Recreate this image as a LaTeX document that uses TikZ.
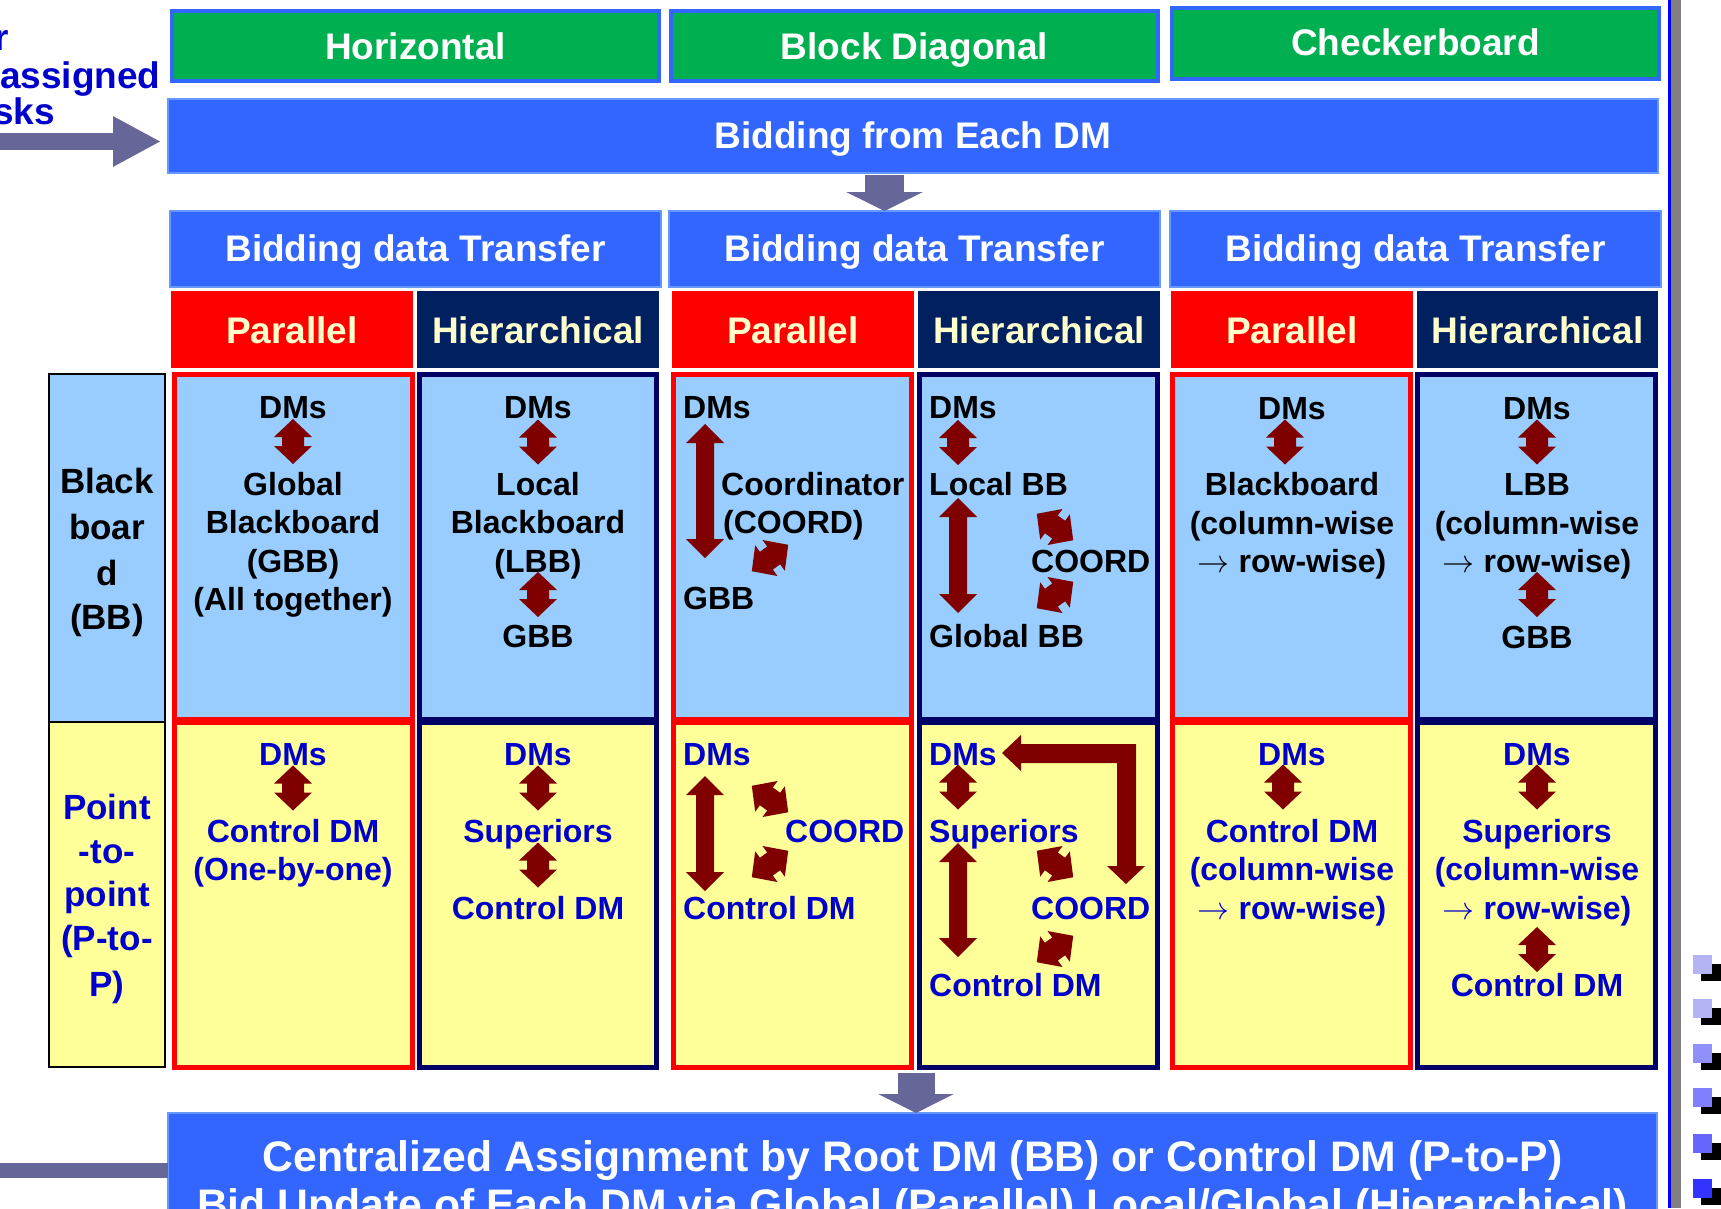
\RequirePackage{fix-cm}
\documentclass[tikz,border=0pt]{standalone}
\usepackage{fontspec}
\setmainfont{Liberation Sans}
\usetikzlibrary{fit,arrows.meta}
\definecolor{gfill}{HTML}{00B050}
\definecolor{bfill}{HTML}{3366FF}
\definecolor{bedge}{HTML}{6699FF}
\definecolor{navyh}{HTML}{002060}
\definecolor{navyc}{HTML}{000066}
\definecolor{cream}{HTML}{FFFFCC}
\definecolor{lbfill}{HTML}{99CCFF}
\definecolor{yfill}{HTML}{FFFF99}
\definecolor{dred}{HTML}{800000}
\definecolor{tblue}{HTML}{0000CC}
\definecolor{garr}{HTML}{666699}
\definecolor{sqa}{HTML}{B4B4F5}
\definecolor{sqb}{HTML}{9090FA}
\definecolor{sqc}{HTML}{8080FF}
\definecolor{sqd}{HTML}{6666FF}
\definecolor{sqe}{HTML}{3333FF}
\newcommand\fH{\fontsize{37}{44}\selectfont\bfseries}
\newcommand\fC{\fontsize{32}{38}\selectfont\bfseries}
\newcommand\fS{\fontsize{35}{42}\selectfont\bfseries}
\newcommand\fB{\fontsize{42.7}{50}\selectfont\bfseries}
% double block arrow: cx, cy, rotation, half length, head half width, shaft half width, head length
\newcommand\darr[7]{%
  \begin{scope}[shift={(#1,#2)},rotate=#3]
    \fill[dred] (0,-#4) -- (#5,-#4+#7) -- (#6,-#4+#7) -- (#6,#4-#7) -- (#5,#4-#7)
      -- (0,#4) -- (-#5,#4-#7) -- (-#6,#4-#7) -- (-#6,-#4+#7) -- (-#5,-#4+#7) -- cycle;
  \end{scope}}
\newcommand\sarr[3]{\darr{#1}{#2}{#3}{22.5}{19}{11}{18}}
\tikzset{
  gbox/.style={draw=bfill, line width=4pt, fill=gfill, inner sep=0pt, outer sep=0pt},
  bbox/.style={draw=bedge, line width=1.5pt, fill=bfill, inner sep=0pt, outer sep=0pt},
  phead/.style={fill=red, inner sep=0pt, outer sep=0pt},
  hhead/.style={fill=navyh, inner sep=0pt, outer sep=0pt},
  pcell/.style={draw=red, line width=5pt, inner sep=0pt, outer sep=0pt},
  hcell/.style={draw=navyc, line width=5pt, inner sep=0pt, outer sep=0pt},
  sbox/.style={draw=black, line width=2pt, inner sep=0pt, outer sep=0pt},
  hd/.style={font=\fH, text=white, inner sep=0pt, anchor=base},
  hc/.style={font=\fH, text=cream, inner sep=0pt, anchor=base},
  lt/.style={font=\fH, text=tblue, inner sep=0pt},
  ck/.style={font=\fC, text=black, inner sep=0pt, anchor=base},
  cb/.style={font=\fC, text=tblue, inner sep=0pt, anchor=base},
  ckl/.style={ck, anchor=base west},
  cbl/.style={cb, anchor=base west},
  sk/.style={font=\fS, text=black, inner sep=0pt, anchor=base},
  sb/.style={font=\fS, text=tblue, inner sep=0pt, anchor=base},
  garrow/.style={draw=garr, line cap=butt},
}
\begin{document}
\begin{tikzpicture}[x=1pt,y=-1pt]
\useasboundingbox (0,0) rectangle (1721,1208);
\clip (0,0) rectangle (1721,1208);
\fill[white] (0,0) rectangle (1721,1208);

% right frame and decorations
\fill[blue] (1668,0) rectangle (1671,1208);
\fill[gray] (1671,0) rectangle (1681,1208);
\foreach \yy/\cc in {955/sqa, 999/sqa, 1044/sqb, 1088/sqc, 1134/sqd, 1179/sqe}{
  \fill[black] (1701,\yy+9) rectangle (1721,\yy+26);
  \fill[\cc] (1693,\yy) rectangle (1712,\yy+19);
}

% top-left cropped text
\node[lt, anchor=base east] (tl1) at (9,50) {r};
\node[lt, anchor=base west] (tl2) at (0,88) {assigned};
\node[lt, anchor=base east] (tl3) at (55,124) {sks};

% green headers
\node[gbox, fit={(172,11) (659,81)}] (gH) {};
\node[gbox, fit={(671,11) (1158,81)}] (gB) {};
\node[gbox, fit={(1172,8) (1659,79)}] (gC) {};
\node[hd] (tH) at (415.5,59) {Horizontal};
\node[hd] (tB) at (914.5,59) {Block Diagonal};
\node[hd] (tC) at (1415.5,55) {Checkerboard};

% bidding
\node[bbox, fit={(168,99) (1658,173)}] (bid) {};
\node[hd] (tbid) at (913,148) {Bidding from Each DM};

\node[bbox, fit={(170,211) (661,287)}] (bdt1) {};
\node[bbox, fit={(669,211) (1160,287)}] (bdt2) {};
\node[bbox, fit={(1170,211) (1661,287)}] (bdt3) {};
\node[hd] (tbdt1) at (415.5,261) {Bidding data Transfer};
\node[hd] (tbdt2) at (914.5,261) {Bidding data Transfer};
\node[hd] (tbdt3) at (1415.5,261) {Bidding data Transfer};

% parallel / hierarchical headers
\node[phead, fit={(171,291) (413,368)}] (ph1) {};
\node[hhead, fit={(417,291) (659,368)}] (hh1) {};
\node[phead, fit={(672,291) (914,368)}] (ph2) {};
\node[hhead, fit={(918,291) (1160,368)}] (hh2) {};
\node[phead, fit={(1171,291) (1413,368)}] (ph3) {};
\node[hhead, fit={(1417,291) (1658,368)}] (hh3) {};
\node[hc] (tph1) at (292,343) {Parallel};
\node[hc] (thh1) at (538,343) {Hierarchical};
\node[hc] (tph2) at (793,343) {Parallel};
\node[hc] (thh2) at (1039,343) {Hierarchical};
\node[hc] (tph3) at (1292,343) {Parallel};
\node[hc] (thh3) at (1537.5,343) {Hierarchical};

% side boxes
\node[sbox, fill=lbfill, fit={(49,374) (165,722)}] (sBB) {};
\node[sbox, fill=yfill, fit={(49,722) (165,1067)}] (sPP) {};
\node[sk] (s1) at (107,493) {Black};
\node[sk] (s2) at (107,539) {boar};
\node[sk] (s3) at (107,585) {d};
\node[sk] (s4) at (107,629) {(BB)};
\node[sb] (s5) at (107,819) {Point};
\node[sb] (s6) at (107,863) {-to-};
\node[sb] (s7) at (107,906) {point};
\node[sb] (s8) at (107,950) {(P-to-};
\node[sb] (s9) at (107,996) {P)};

% grid cells
\node[pcell, fill=lbfill, fit={(174.5,374.5) (412.5,719)}] (cBP1) {};
\node[hcell, fill=lbfill, fit={(419.5,374.5) (656.5,719)}] (cBH1) {};
\node[pcell, fill=lbfill, fit={(673.5,374.5) (911.5,719)}] (cBP2) {};
\node[hcell, fill=lbfill, fit={(919.5,374.5) (1157.5,719)}] (cBH2) {};
\node[pcell, fill=lbfill, fit={(1172.5,374.5) (1410.5,719)}] (cBP3) {};
\node[hcell, fill=lbfill, fit={(1417.5,374.5) (1655.5,719)}] (cBH3) {};
\node[pcell, fill=yfill, fit={(174.5,722) (412.5,1067.5)}] (cPP1) {};
\node[hcell, fill=yfill, fit={(419.5,722) (656.5,1067.5)}] (cPH1) {};
\node[pcell, fill=yfill, fit={(673.5,722) (911.5,1067.5)}] (cPP2) {};
\node[hcell, fill=yfill, fit={(919.5,722) (1157.5,1067.5)}] (cPH2) {};
\node[pcell, fill=yfill, fit={(1172.5,722) (1410.5,1067.5)}] (cPP3) {};
\node[hcell, fill=yfill, fit={(1417.5,722) (1655.5,1067.5)}] (cPH3) {};

% --- BB row ---
% col 1 parallel
\node[ck] (a1) at (293,418) {DMs};
\sarr{293}{441.5}{0}
\node[ck] (a2) at (293,495) {Global};
\node[ck] (a3) at (293,533) {Blackboard};
\node[ck] (a4) at (293,572) {(GBB)};
\node[ck] (a5) at (293,610) {(All together)};
% col 1 hierarchical
\node[ck] (b1) at (538,418) {DMs};
\sarr{538}{442}{0}
\node[ck] (b2) at (538,495) {Local};
\node[ck] (b3) at (538,533) {Blackboard};
\node[ck] (b4) at (538,572) {(LBB)};
\sarr{538}{594.5}{0}
\node[ck] (b5) at (538,647) {GBB};
% col 2 parallel
\node[ckl] (c1) at (683,418) {DMs};
\darr{705}{491}{0}{67}{19}{9}{19}
\node[ckl] (c2) at (721,495) {Coordinator};
\node[ckl] (c3) at (723,533) {(COORD)};
\sarr{770}{558}{-54}
\node[ckl] (c4) at (683,609) {GBB};
% col 2 hierarchical
\node[ckl] (d1) at (929,418) {DMs};
\sarr{958}{442.5}{0}
\node[ckl] (d2) at (929,495) {Local BB};
\darr{958}{555.5}{0}{57.5}{19}{9}{19}
\sarr{1055}{527}{54}
\node[ckl] (d3) at (1031,572) {COORD};
\sarr{1055}{595}{-54}
\node[ckl] (d4) at (929,647) {Global BB};
% col 3 parallel
\node[ck] (e1) at (1292,419) {DMs};
\sarr{1285}{442}{0}
\node[ck] (e2) at (1292,495) {Blackboard};
\node[ck] (e3) at (1292,534) {(column-wise};
\node[ck] (e4) at (1292,572) {$\rightarrow$ row-wise)};
% col 3 hierarchical
\node[ck] (f1) at (1537,419) {DMs};
\sarr{1537}{442}{0}
\node[ck] (f2) at (1537,495) {LBB};
\node[ck] (f3) at (1537,534) {(column-wise};
\node[ck] (f4) at (1537,572) {$\rightarrow$ row-wise)};
\sarr{1537}{594.5}{0}
\node[ck] (f5) at (1537,648) {GBB};

% --- P-to-P row ---
% col 1 parallel
\node[cb] (g1) at (293,765) {DMs};
\sarr{293}{788}{0}
\node[cb] (g2) at (293,842) {Control DM};
\node[cb] (g3) at (293,880) {(One-by-one)};
% col 1 hierarchical
\node[cb] (h1) at (538,765) {DMs};
\sarr{538}{788}{0}
\node[cb] (h2) at (538,842) {Superiors};
\sarr{538}{865}{0}
\node[cb] (h3) at (538,919) {Control DM};
% col 2 parallel
\node[cbl] (i1) at (683,765) {DMs};
\darr{705}{833.5}{0}{57.5}{19}{9}{19}
\sarr{770}{799}{54}
\node[cbl] (i2) at (785,842) {COORD};
\sarr{770}{864}{-54}
\node[cbl] (i3) at (683,919) {Control DM};
% col 2 hierarchical
\node[cbl] (j1) at (929,765) {DMs};
\sarr{958}{787}{0}
\node[cbl] (j2) at (929,842) {Superiors};
\darr{958}{900}{0}{57}{19}{9}{19}
\sarr{1055}{864}{54}
\node[cbl] (j3) at (1031,919) {COORD};
\sarr{1055}{949}{-54}
\node[cbl] (j4) at (929,996) {Control DM};
\fill[dred] (1002,753) -- (1021,735) -- (1021,744) -- (1136,744) -- (1136,866)
  -- (1145,866) -- (1126,884) -- (1107,866) -- (1117,866) -- (1117,763)
  -- (1021,763) -- (1021,771) -- cycle;
% col 3 parallel
\node[cb] (k1) at (1292,765) {DMs};
\sarr{1283}{787}{0}
\node[cb] (k2) at (1292,842) {Control DM};
\node[cb] (k3) at (1292,880) {(column-wise};
\node[cb] (k4) at (1292,919) {$\rightarrow$ row-wise)};
% col 3 hierarchical
\node[cb] (l1) at (1537,765) {DMs};
\sarr{1537}{787}{0}
\node[cb] (l2) at (1537,842) {Superiors};
\node[cb] (l3) at (1537,880) {(column-wise};
\node[cb] (l4) at (1537,919) {$\rightarrow$ row-wise)};
\sarr{1537}{949.5}{0}
\node[cb] (l5) at (1537,996) {Control DM};

% bottom box
\node[bbox, fit={(168,1113) (1657,1260)}] (bot) {};
\node[hd, font=\fB] (tbot1) at (912.5,1171) {Centralized Assignment by Root DM (BB) or Control DM (P-to-P)};
\node[hd, font=\fB] (tbot2) at (912.5,1219) {Bid Update of Each DM via Global (Parallel) Local/Global (Hierarchical)};

% gray block arrows
\coordinate (dA) at (884.5,175);
\draw[garrow, line width=39pt, -{Triangle[width=76pt,length=19pt]}] (dA) -- (dA |- bdt2.north);
\coordinate (dB) at (916,1073);
\draw[garrow, line width=37pt, -{Triangle[width=75pt,length=19pt]}] (dB) -- (dB |- bot.north);
\coordinate (lA) at (-10,141.5);
\coordinate (lAe) at (161,141.5);
\draw[garrow, line width=17pt, -{Triangle[width=47pt,length=48pt]}] (lA) -- (lAe);
\coordinate (lB) at (-10,1170.5);
\draw[garrow, line width=15pt] (lB) -- (lB -| bot.west);
\end{tikzpicture}
\end{document}
